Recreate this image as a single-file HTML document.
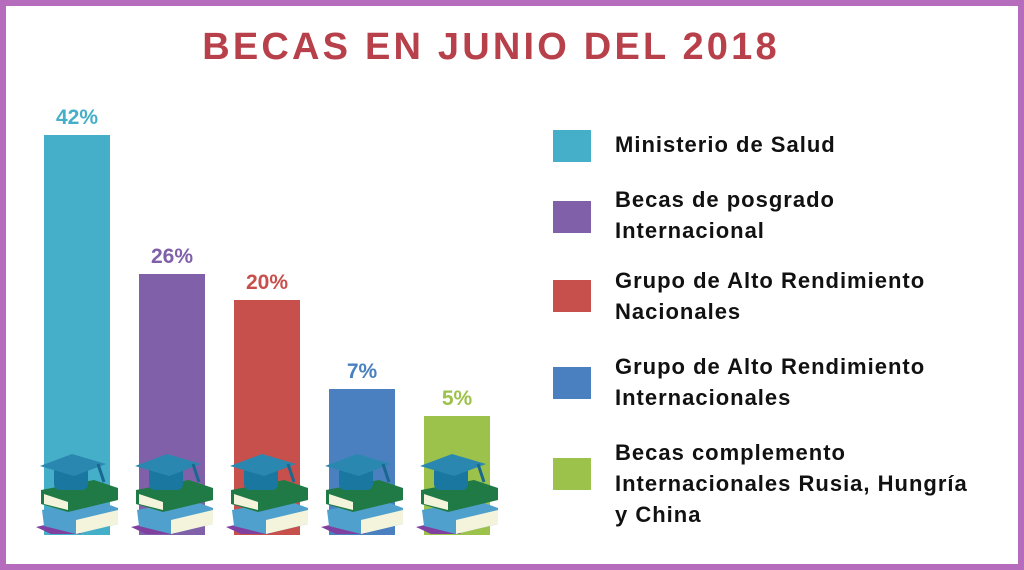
<!DOCTYPE html>
<html><head><meta charset="utf-8"><style>
html,body{margin:0;padding:0}
body{width:1024px;height:570px;position:relative;overflow:hidden;background:#fff;font-family:"Liberation Sans",sans-serif}
.frame{position:absolute;left:0;top:0;width:1012px;height:558px;border:6px solid #b56cbd}
.title{position:absolute;left:0;width:982px;top:26px;text-align:center;font-size:38px;font-weight:bold;color:#b8404a;letter-spacing:3.2px}
.bar{position:absolute;width:66px;bottom:35px}
.lab{position:absolute;width:66px;text-align:center;font-weight:bold;font-size:21px}
.sq{position:absolute;left:553px;width:38px;height:32px}
.lt{position:absolute;left:615px;font-size:22px;font-weight:bold;color:#111;line-height:31px;letter-spacing:1px}
svg.ic{position:absolute;top:452px}
</style></head><body>
<div class="frame"></div>
<div class="title">BECAS EN JUNIO DEL 2018</div>

<div class="bar" style="left:44px;top:135px;background:#45aec8"></div>
<div class="lab" style="left:44px;top:106px;color:#45aec8">42%</div>
<div class="bar" style="left:139px;top:274px;background:#8060a8"></div>
<div class="lab" style="left:139px;top:245px;color:#8060a8">26%</div>
<div class="bar" style="left:234px;top:300px;background:#c8504c"></div>
<div class="lab" style="left:234px;top:271px;color:#c8504c">20%</div>
<div class="bar" style="left:329px;top:389px;background:#4a80c0"></div>
<div class="lab" style="left:329px;top:360px;color:#4a80c0">7%</div>
<div class="bar" style="left:424px;top:416px;background:#9cc24c"></div>
<div class="lab" style="left:424px;top:387px;color:#9cc24c">5%</div>

<svg width="0" height="0" style="position:absolute"><defs><g id="ic">
<polygon points="0,75 30,68 45,82 15,82" fill="#8040a0"/>
<polygon points="6,58 60,48 82,56 82,72 40,82 8,74" fill="#4fa0cc"/>
<polygon points="40,68 82,58 82,72 40,82" fill="#f4f4dc"/>
<polygon points="5,38 58,28 82,36 82,48 32,60 5,52" fill="#1f7a45"/>
<polygon points="8,42 32,50 32,58 8,52" fill="#f4f4dc"/>
<rect x="18" y="14" width="34" height="24" rx="6" fill="#1a78a0"/>
<polygon points="4,14 36,2 70,12 38,24" fill="#2a88b0"/>
<line x1="62" y1="12" x2="68" y2="30" stroke="#1a6890" stroke-width="3"/>
</g></defs></svg>
<svg class="ic" style="left:36px" width="90" height="86"><use href="#ic"/></svg>
<svg class="ic" style="left:131px" width="90" height="86"><use href="#ic"/></svg>
<svg class="ic" style="left:226px" width="90" height="86"><use href="#ic"/></svg>
<svg class="ic" style="left:321px" width="90" height="86"><use href="#ic"/></svg>
<svg class="ic" style="left:416px" width="90" height="86"><use href="#ic"/></svg>

<div class="sq" style="top:130px;background:#45aec8"></div>
<div class="lt" style="top:129px">Ministerio de Salud</div>
<div class="sq" style="top:201px;background:#8060a8"></div>
<div class="lt" style="top:184px">Becas de posgrado<br>Internacional</div>
<div class="sq" style="top:280px;background:#c8504c"></div>
<div class="lt" style="top:265px">Grupo de Alto Rendimiento<br>Nacionales</div>
<div class="sq" style="top:367px;background:#4a80c0"></div>
<div class="lt" style="top:351px">Grupo de Alto Rendimiento<br>Internacionales</div>
<div class="sq" style="top:458px;background:#9cc24c"></div>
<div class="lt" style="top:437px">Becas complemento<br>Internacionales Rusia, Hungría<br>y China</div>
</body></html>
